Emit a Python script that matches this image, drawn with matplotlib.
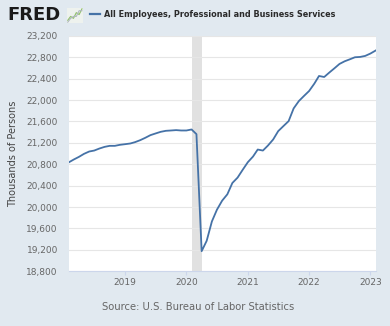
import numpy as np
import pandas as pd
import matplotlib
matplotlib.use("Agg")
import matplotlib.pyplot as plt
import matplotlib.dates as mdates
from matplotlib.lines import Line2D
from matplotlib.ticker import FuncFormatter


TITLE = "All Employees, Professional and Business Services"
Y_LABEL = "Thousands of Persons"
SOURCE = "Source: U.S. Bureau of Labor Statistics"

START = "2018-02-01"
# monthly values, Feb 2018 .. Feb 2023 (thousands)
VALUES = [
    20838, 20888, 20938, 20994, 21038, 21056, 21094, 21125, 21144, 21144, 21163,
    21175, 21188, 21213, 21250, 21294, 21344, 21375, 21406, 21425, 21431, 21438, 21431,
    21431, 21450, 21363, 19175, 19369, 19731, 19950, 20119, 20238, 20450, 20550, 20694,
    20838, 20944, 21075, 21056, 21150, 21263, 21419, 21513, 21606, 21844, 21981, 22075,
    22169, 22306, 22450, 22431, 22513, 22594, 22675, 22725, 22762, 22800, 22806, 22825,
    22869, 22925,
]
RECESSION = ("2020-02-01", "2020-04-01")
Y_TICKS = list(range(18800, 23201, 400))
X_YEARS = [2019, 2020, 2021, 2022, 2023]

# little squiggle in the FRED logo
ICON_A = [1, 3, 2, 5, 4, 7]
ICON_B = [0, 2, 3, 3, 6, 6]

BG = "#e1e9f0"
LINE = "#4572a7"


def main():
    dates = pd.date_range(START, periods=len(VALUES), freq="MS")

    fig = plt.figure(figsize=(3.9, 3.26), dpi=100, facecolor=BG)
    ax = fig.add_axes([0.177, 0.168, 0.786, 0.722])
    ax.set_facecolor("white")

    ax.axvspan(pd.Timestamp(RECESSION[0]), pd.Timestamp(RECESSION[1]),
               color="#e1e1e1", lw=0, zorder=1)
    ax.plot(dates, VALUES, color=LINE, lw=1.3, zorder=3)

    ax.set_xlim(dates[0], dates[-1])
    ax.set_ylim(Y_TICKS[0], Y_TICKS[-1])
    ax.set_yticks(Y_TICKS)
    ax.yaxis.set_major_formatter(FuncFormatter(lambda v, p: f"{int(v):,}"))
    ax.set_xticks([pd.Timestamp(f"{y}-01-01") for y in X_YEARS])
    ax.xaxis.set_major_formatter(mdates.DateFormatter("%Y"))

    ax.grid(axis="y", color="#e6e6e6", lw=0.8, zorder=0)
    for s in ["top", "right", "left"]:
        ax.spines[s].set_visible(False)
    ax.spines["bottom"].set_color("#ccd6eb")
    ax.spines["bottom"].set_linewidth(0.8)
    ax.tick_params(axis="y", length=0, labelsize=6.5, labelcolor="#666666", pad=8)
    ax.tick_params(axis="x", length=3, color="#ccd6eb", labelsize=6.5,
                   labelcolor="#666666", pad=2)

    ax.set_ylabel(Y_LABEL, fontsize=7, color="#444444", labelpad=6)

    # header
    fig.text(0.018, 0.955, "FRED", fontsize=13, fontweight="black",
             color="#1a1a1a", va="center", ha="left")
    icon = fig.add_axes([0.172, 0.93, 0.04, 0.045])
    icon.set_facecolor("#eef2ee")
    icon.plot(ICON_A, color="#8fbf6a", lw=0.8)
    icon.plot(ICON_B, color="#b0b8c0", lw=0.8)
    icon.set_xticks([])
    icon.set_yticks([])
    for s in icon.spines.values():
        s.set_visible(False)
    fig.add_artist(Line2D([0.231, 0.256], [0.957, 0.957], color=LINE, lw=1.6,
                          transform=fig.transFigure))
    fig.text(0.266, 0.955, TITLE, fontsize=5.9, fontweight="bold",
             color="#2b2b2b", va="center", ha="left")

    fig.text(0.507, 0.058, SOURCE, fontsize=7.2, color="#666666",
             va="center", ha="center")

    fig.savefig("out.png", dpi=100, facecolor=BG)


if __name__ == "__main__":
    main()
